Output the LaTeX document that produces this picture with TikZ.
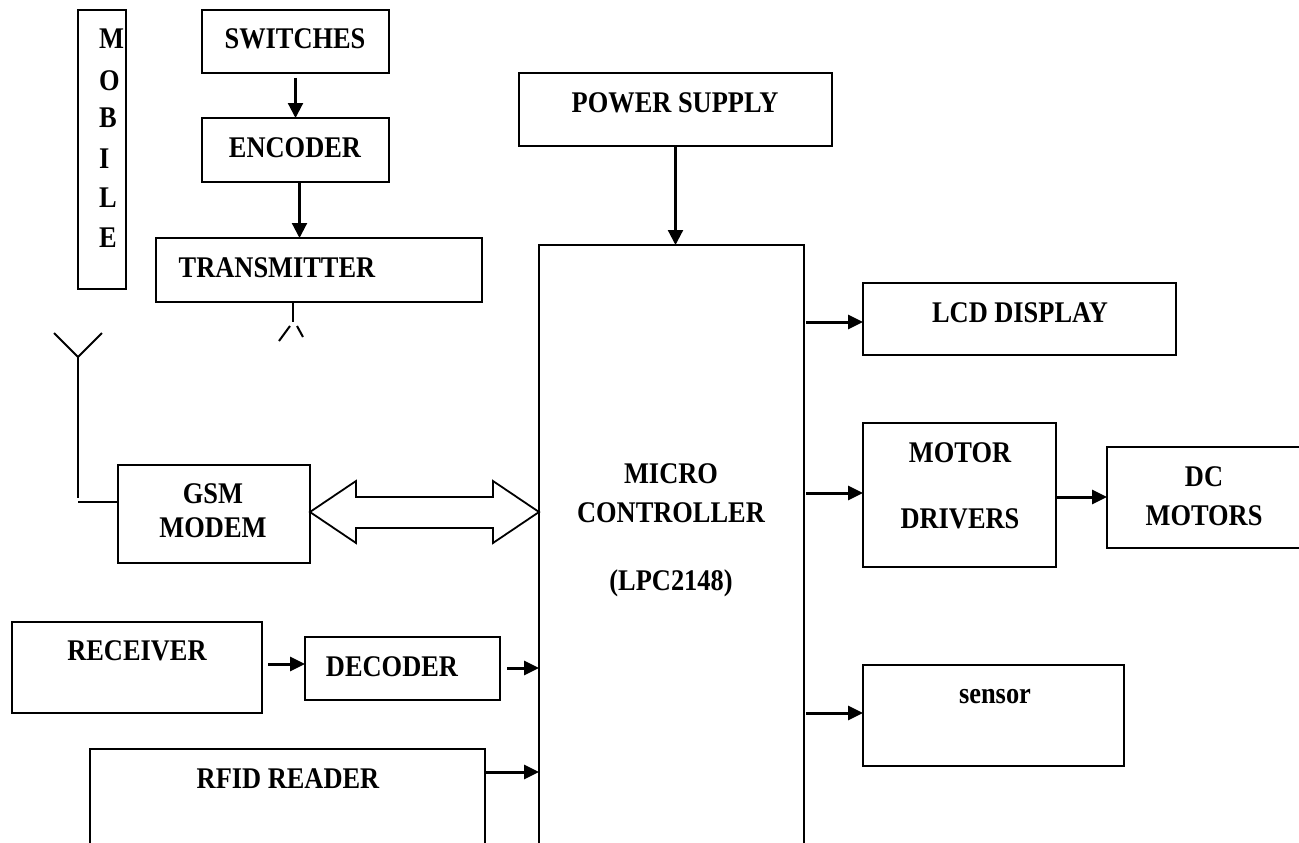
\documentclass[tikz,border=0pt]{standalone}
\usepackage{fontspec}
\setmainfont[FakeStretch=0.88]{Liberation Serif}
\usetikzlibrary{arrows.meta}
\begin{document}
\begin{tikzpicture}[x=1pt,y=-1pt,
  box/.style={draw, line width=2pt, inner sep=0pt, outer sep=0pt, anchor=north west},
  lbl/.style={inner sep=0pt, anchor=base, font=\bfseries\fontsize{30}{36}\selectfont},
  lblw/.style={inner sep=0pt, anchor=base west, font=\bfseries\fontsize{30}{36}\selectfont},
  arr/.style={line width=3pt, -{Triangle[length=15pt,width=14pt]}},
  thinarr/.style={line width=2.2pt, -{Triangle[length=15pt,width=15pt]}},
  ant/.style={line width=2pt},
  dbl/.style={line width=1.8pt, line join=miter}]
\useasboundingbox (0,0) rectangle (1299,843);
\clip (0,0) rectangle (1299,843);

% boxes
\node[box, minimum width=48pt,  minimum height=279pt] (mob) at (78,10) {};
\node[box, minimum width=187pt, minimum height=63pt]  (sw)  at (202,10) {};
\node[box, minimum width=187pt, minimum height=64pt]  (enc) at (202,118) {};
\node[box, minimum width=326pt, minimum height=64pt]  (tx)  at (156,238) {};
\node[box, minimum width=313pt, minimum height=73pt]  (ps)  at (519,73) {};
\node[box, minimum width=265pt, minimum height=640pt] (mc)  at (539,245) {};
\node[box, minimum width=313pt, minimum height=72pt]  (lcd) at (863,283) {};
\node[box, minimum width=193pt, minimum height=144pt] (md)  at (863,423) {};
\node[box, minimum width=220pt, minimum height=101pt] (dc)  at (1107,447) {};
\node[box, minimum width=192pt, minimum height=98pt]  (gsm) at (118,465) {};
\node[box, minimum width=250pt, minimum height=91pt]  (rx)  at (12,622) {};
\node[box, minimum width=195pt, minimum height=63pt]  (dec) at (305,637) {};
\node[box, minimum width=395pt, minimum height=140pt] (rfid) at (90,749) {};
\node[box, minimum width=261pt, minimum height=101pt] (sen) at (863,665) {};

% labels
\node[lblw] (m1) at (99,49)  {M};
\node[lblw] (m2) at (99,90)  {O};
\node[lblw] (m3) at (99,128) {B};
\node[lblw] (m4) at (99,168) {I};
\node[lblw] (m5) at (99,207) {L};
\node[lblw] (m6) at (99,247) {E};
\node[lbl] (tsw)  at (295,49)  {SWITCHES};
\node[lbl] (tenc) at (295,157) {ENCODER};
\node[lbl] (ttx)  at (277,277) {TRANSMITTER};
\node[lbl] (tps)  at (675,112) {POWER SUPPLY};
\node[lbl] (tlcd) at (1020,322) {LCD DISPLAY};
\node[lbl] (tmd1) at (960,462) {MOTOR};
\node[lbl] (tmd2) at (960,528) {DRIVERS};
\node[lbl] (tdc1) at (1204,486) {DC};
\node[lbl] (tdc2) at (1204,525) {MOTORS};
\node[lbl] (tmc1) at (671,483) {MICRO};
\node[lbl] (tmc2) at (671,522) {CONTROLLER};
\node[lbl] (tmc3) at (671,590) {(LPC2148)};
\node[lbl] (tgsm1) at (213,503) {GSM};
\node[lbl] (tgsm2) at (213,537) {MODEM};
\node[lbl] (trx)  at (137,660) {RECEIVER};
\node[lbl] (tdec) at (392,676) {DECODER};
\node[lbl] (trf)  at (288,788) {RFID READER};
\node[lbl] (tsen) at (995,703) {sensor};

% arrows
\draw[thinarr] ([yshift=-5pt]sw.south) -- (enc.north);
\draw[thinarr] ([xshift=4pt]enc.south) -- ([xshift=4pt]enc.south |- tx.north);
\draw[thinarr] (ps.south) -- (ps.south |- mc.north);
\draw[arr] ([xshift=2pt]mc.east |- 0,322) -- (lcd.west |- 0,322);
\draw[arr] ([xshift=2pt]mc.east |- 0,493) -- (md.west |- 0,493);
\draw[arr] (md.east |- 0,497) -- (dc.west |- 0,497);
\draw[arr] ([xshift=2pt]mc.east |- 0,713) -- (sen.west |- 0,713);
\draw[arr] ([xshift=6pt]rx.east |- 0,664) -- (dec.west |- 0,664);
\draw[arr] ([xshift=7pt]dec.east |- 0,668) -- (mc.west |- 0,668);
\draw[arr] (rfid.east |- 0,772) -- (mc.west |- 0,772);

% double arrow GSM <-> MC
\draw[dbl] (gsm.east |- 0,512) -- ++(46,-31) -- ++(0,16) -- ++(137,0) -- ++(0,-16)
  -- (mc.west |- 0,512) -- ++(-46,31) -- ++(0,-15) -- ++(-137,0) -- ++(0,15) -- cycle;

% transmitter antenna
\draw[ant] (tx.south -| 293,0) -- (293,322);
\draw[ant] (279,341) -- (290,326);
\draw[ant] (297,326) -- (303,337);

% GSM antenna
\draw[ant] (54,333) -- (78,357) -- (102,333);
\draw[ant] (78,357) -- (78,498);
\draw[ant] (78,502) -- (gsm.west |- 0,502);
\end{tikzpicture}
\end{document}
